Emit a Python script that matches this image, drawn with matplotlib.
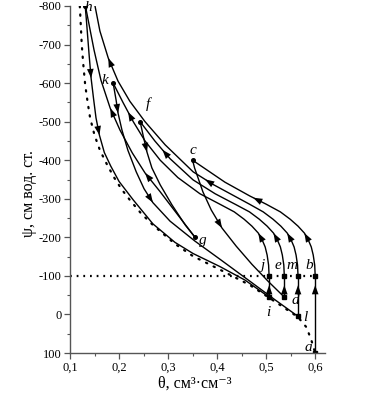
import matplotlib
matplotlib.use("Agg")
import matplotlib.pyplot as plt
from matplotlib.ticker import MultipleLocator, FuncFormatter

plt.rcParams['font.family'] = ['Liberation Serif', 'DejaVu Serif']
plt.rcParams['axes.unicode_minus'] = False

# main curve (dotted), theta in cm3/cm3, psi in cm of water
main_theta = [0.120, 0.122, 0.124, 0.127, 0.131, 0.136, 0.141, 0.150, 0.161, 0.175, 0.190,
              0.205, 0.222, 0.245, 0.269, 0.314, 0.351, 0.406, 0.467, 0.529, 0.565,
              0.582, 0.592, 0.600]
main_psi = [-800, -750, -699, -650, -595, -550, -510, -465, -426, -390, -355,
            -325, -297, -262, -232, -183, -151, -116, -76, -24, 7,
            33, 66, 100]

# scanning branches in the order of the experiment
ab_theta = [0.600, 0.600]
ab_psi = [100, -100]

bc_theta = [0.600, 0.599, 0.596, 0.592, 0.586, 0.578, 0.565, 0.549, 0.529, 0.500,
            0.467, 0.416, 0.350]
bc_psi = [-100, -128, -154, -175, -193, -211, -229, -247, -266, -286,
          -307, -343, -400]

cd_theta = [0.350, 0.354, 0.359, 0.365, 0.371, 0.388, 0.410, 0.439, 0.471, 0.504, 0.537]
cd_psi = [-400, -380, -362, -340, -318, -271, -224, -177, -130, -86, -45]

de_theta = [0.537, 0.537]
de_psi = [-45, -100]

ef_theta = [0.537, 0.536, 0.533, 0.529, 0.523, 0.515, 0.502, 0.486, 0.466, 0.438,
            0.396, 0.351, 0.304, 0.273, 0.243]
ef_psi = [-100, -128, -154, -175, -193, -211, -229, -247, -266, -285,
          -313, -349, -404, -450, -500]

fg_theta = [0.243, 0.249, 0.257, 0.267, 0.284, 0.308, 0.335, 0.355]
fg_psi = [-500, -465, -421, -380, -336, -284, -232, -200]

gh_theta = [0.355, 0.320, 0.284, 0.253, 0.227, 0.202, 0.182, 0.163, 0.149, 0.139, 0.133, 0.131]
gh_psi = [-200, -258, -318, -367, -419, -478, -535, -608, -686, -751, -790, -800]

hi_theta = [0.131, 0.133, 0.135, 0.139, 0.143, 0.148, 0.153, 0.160, 0.170, 0.183, 0.200,
            0.229, 0.269, 0.314, 0.351, 0.406, 0.457, 0.506]
hi_psi = [-800, -770, -738, -673, -613, -560, -510, -465, -420, -385, -345,
          -297, -235, -187, -158, -124, -89, -45]

ij_theta = [0.506, 0.506]
ij_psi = [-45, -100]

jk_theta = [0.506, 0.505, 0.502, 0.498, 0.492, 0.484, 0.471, 0.455, 0.435, 0.407,
            0.365, 0.320, 0.284, 0.253, 0.229, 0.208, 0.188]
jk_psi = [-100, -128, -154, -175, -193, -211, -229, -247, -266, -285,
          -313, -355, -400, -450, -500, -550, -600]

kl_theta = [0.188, 0.191, 0.194, 0.198, 0.206, 0.218, 0.235, 0.251, 0.269, 0.304,
            0.355, 0.406, 0.467, 0.518, 0.565]
kl_psi = [-600, -578, -556, -522, -478, -426, -370, -326, -290, -242,
          -190, -143, -86, -38, 5]

lm_theta = [0.565, 0.565]
lm_psi = [5, -100]

m_theta = [0.565, 0.564, 0.561, 0.557, 0.551, 0.543, 0.530, 0.514, 0.494, 0.466,
           0.437, 0.392, 0.351, 0.294, 0.253, 0.222, 0.198, 0.178, 0.161, 0.151]
m_psi = [-100, -128, -154, -175, -193, -211, -229, -247, -266, -286,
         -306, -337, -370, -440, -500, -553, -605, -665, -735, -800]

ref_theta = [0.1, 0.6]
ref_psi = [-100, -100]

# turning points: squares on the saturated side, dots on the others
sq_theta = [0.600, 0.600, 0.537, 0.537, 0.506, 0.506, 0.565, 0.565]
sq_psi = [100, -100, -45, -100, -45, -100, 5, -100]
dot_theta = [0.350, 0.243, 0.355, 0.131, 0.188]
dot_psi = [-400, -500, -200, -800, -600]

# where the letters sit
label_pos = {'a': (0.586, 85), 'b': (0.587, -126), 'c': (0.351, -424), 'd': (0.560, -37),
             'e': (0.524, -126), 'f': (0.259, -546), 'g': (0.370, -193), 'h': (0.138, -796),
             'i': (0.504, -6), 'j': (0.494, -126), 'k': (0.172, -607), 'l': (0.580, 9),
             'm': (0.553, -126)}

fig = plt.figure(figsize=(3.72, 3.98), dpi=100)
ax = fig.add_axes([70 / 372, 1 - 353 / 398, 255 / 372, 347 / 398])

ax.plot(main_theta, main_psi, color='k', lw=1.6, linestyle=(0, (0.6, 3.2)),
        dash_capstyle='round')
ax.plot(ref_theta, ref_psi, color='k', lw=1.6, linestyle=(0, (0.8, 2.2)))

branches = [(ab_theta, ab_psi), (bc_theta, bc_psi), (cd_theta, cd_psi), (de_theta, de_psi),
            (ef_theta, ef_psi), (fg_theta, fg_psi), (gh_theta, gh_psi), (hi_theta, hi_psi),
            (ij_theta, ij_psi), (jk_theta, jk_psi), (kl_theta, kl_psi), (lm_theta, lm_psi),
            (m_theta, m_psi)]
for xs, ys in branches:
    ax.plot(xs, ys, color='k', lw=1.0, solid_joinstyle='round')


def arrow(xs, ys, i, t=1.0):
    x = xs[i] + t * (xs[i + 1] - xs[i])
    y = ys[i] + t * (ys[i + 1] - ys[i])
    ax.annotate('', xy=(x, y), xytext=(xs[i], ys[i]),
                arrowprops=dict(arrowstyle='-|>,head_length=0.55,head_width=0.2',
                                color='k', lw=0, shrinkA=0, shrinkB=0,
                                mutation_scale=12))


arrow(ab_theta, ab_psi, 0, 0.88)
arrow(de_theta, de_psi, 0, 0.56)
arrow(ij_theta, ij_psi, 0, 0.56)
arrow(lm_theta, lm_psi, 0, 0.77)
arrow(bc_theta, bc_psi, 4)
arrow(bc_theta, bc_psi, 9, 0.8)
arrow(ef_theta, ef_psi, 4)
arrow(ef_theta, ef_psi, 12, 0.5)
arrow(jk_theta, jk_psi, 4)
arrow(jk_theta, jk_psi, 14, 0.5)
arrow(m_theta, m_psi, 4)
arrow(m_theta, m_psi, 11, 0.4)
arrow(m_theta, m_psi, 16)
arrow(cd_theta, cd_psi, 5)
arrow(fg_theta, fg_psi, 1)
arrow(gh_theta, gh_psi, 2)
arrow(gh_theta, gh_psi, 5)
arrow(hi_theta, hi_psi, 3)
arrow(hi_theta, hi_psi, 6)
arrow(kl_theta, kl_psi, 2)
arrow(kl_theta, kl_psi, 7)

ax.plot(sq_theta, sq_psi, linestyle='none', marker='s', ms=2.6, color='k')
ax.plot(dot_theta, dot_psi, linestyle='none', marker='o', ms=2.6, color='k')
for name, (x, y) in label_pos.items():
    ax.text(x, y, name, fontsize=11, style='italic', ha='center', va='center')

ax.set_xlim(0.1, 0.62)
ax.set_ylim(100, -800)
ax.xaxis.set_major_locator(MultipleLocator(0.1))
ax.xaxis.set_minor_locator(MultipleLocator(0.05))
ax.yaxis.set_major_locator(MultipleLocator(100))
ax.yaxis.set_minor_locator(MultipleLocator(50))
ax.xaxis.set_major_formatter(FuncFormatter(lambda v, p: f"{v:.1f}".replace('.', ',')))
ax.yaxis.set_major_formatter(FuncFormatter(lambda v, p: f"{v:.0f}"))
ax.tick_params(which='major', direction='out', length=4, width=0.9, labelsize=9,
               pad=2, color='#555555')
ax.tick_params(which='minor', direction='out', length=2.5, width=0.8, color='#555555')
for side in ('top', 'right'):
    ax.spines[side].set_visible(False)
for side in ('left', 'bottom'):
    ax.spines[side].set_color('#555555')
    ax.spines[side].set_linewidth(1.0)

ax.set_xlabel('θ, см³·см⁻³', fontsize=11.5)
ax.set_ylabel('ψ, см вод. ст.', fontsize=11.5)
ax.xaxis.set_label_coords(0.49, -0.065)
ax.yaxis.set_label_coords(-0.13, 0.46)

fig.savefig('out.png', dpi=100)
